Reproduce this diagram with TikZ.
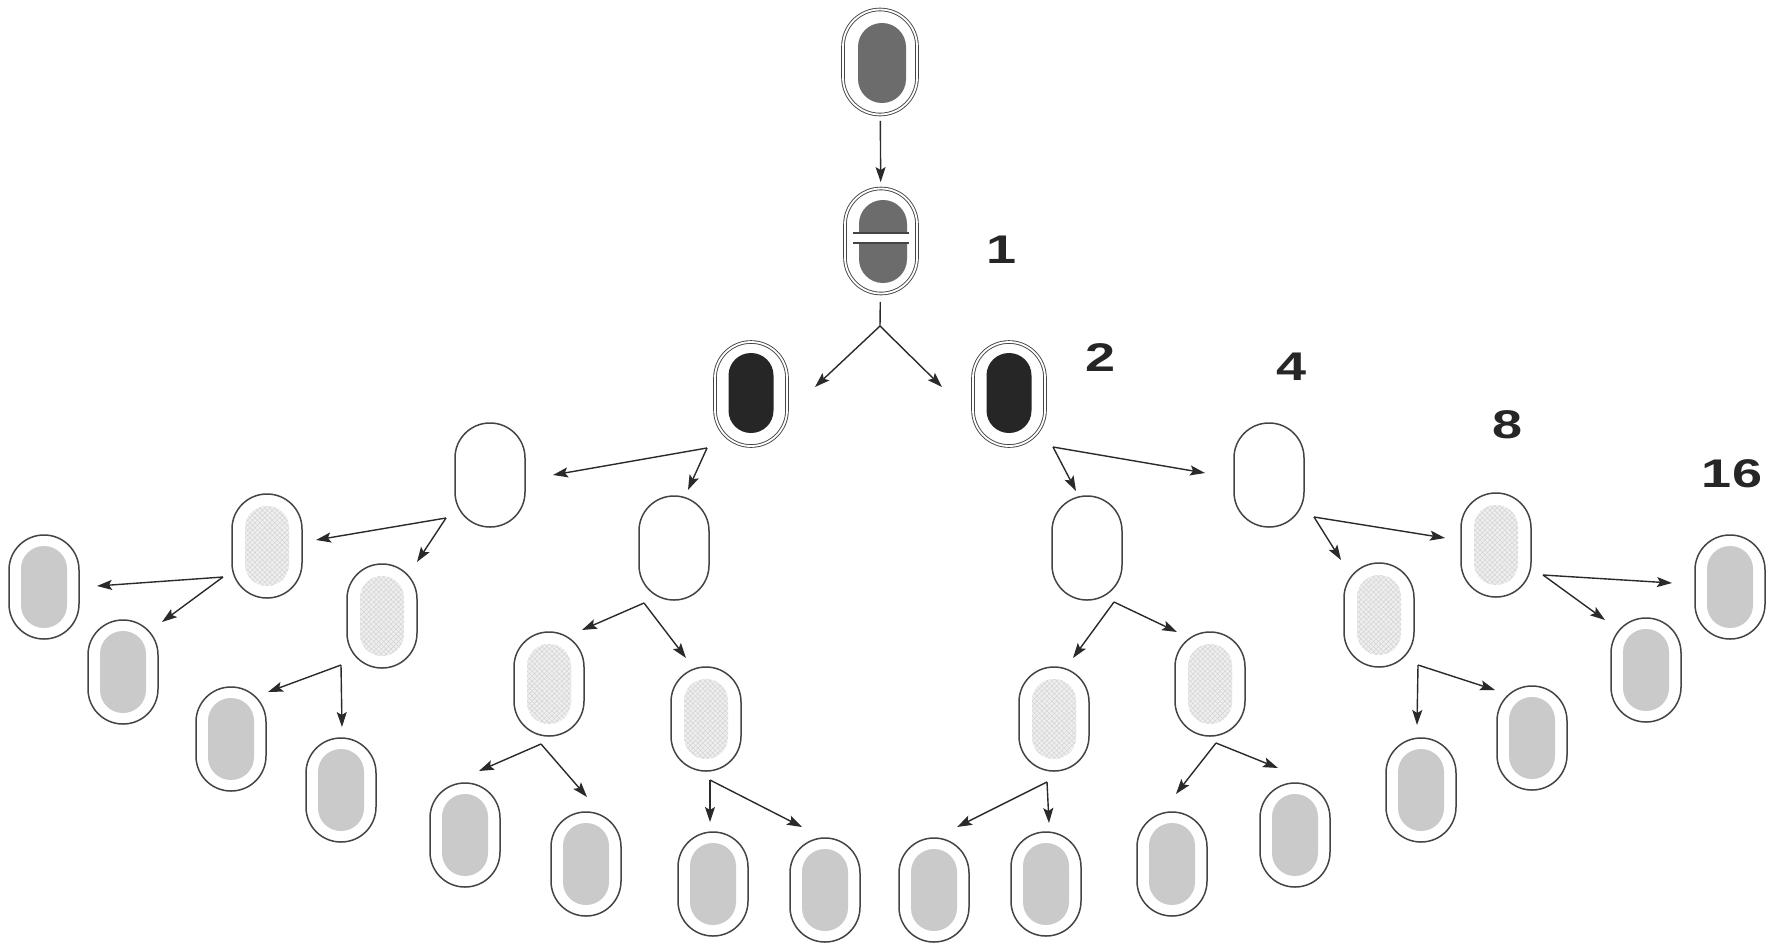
\documentclass[tikz,border=0pt]{standalone}
\usepackage{fontspec}
\setmainfont{Liberation Sans}
\newfontfamily\countfont{Liberation Sans}[FakeStretch=1.35]
\usetikzlibrary{arrows.meta,patterns.meta}

\definecolor{cellline}{HTML}{444444}
\definecolor{arrowink}{HTML}{2A2A2A}
\definecolor{cytodark}{HTML}{6C6C6C}
\definecolor{cytoblack}{HTML}{262626}
\definecolor{cytogrey}{HTML}{CACACA}
\definecolor{cytopale}{HTML}{EFEFEF}
\definecolor{hatchink}{HTML}{D4D4D4}

\tikzset{
  wall/.style={draw=cellline, line width=1.5pt, fill=white, rounded corners=34.9pt,
    minimum width=70pt, minimum height=104pt, inner sep=0pt},
  envelope/.style={draw=cellline, line width=0.9pt, double=white, double distance=1.8pt,
    fill=white, rounded corners=35.9pt, minimum width=72pt, minimum height=104pt, inner sep=0pt},
  core/.style={draw=none, inner sep=0pt, rounded corners=21.9pt,
    minimum width=44pt, minimum height=80pt},
  darkcore/.style={core, fill=cytodark, rounded corners=23.9pt, minimum width=48pt, minimum height=80pt},
  blackcore/.style={core, fill=cytoblack, rounded corners=22.4pt, minimum width=45pt},
  greycore/.style={core, fill=cytogrey, rounded corners=22.9pt, minimum width=46pt, minimum height=82pt},
  palecore/.style={core, preaction={fill=cytopale},
    pattern={Hatch[angle=45,distance=3.5pt,line width=0.5pt]}, pattern color=hatchink},
  arrow/.style={draw=arrowink, line width=1.4pt,
    -{Stealth[length=15pt,width=10pt,inset=3pt]}},
  link/.style={draw=arrowink, line width=1.4pt},
  count/.style={font=\countfont\bfseries\fontsize{40}{40}\selectfont, text=black!85, inner sep=0pt}
}

\begin{document}
\begin{tikzpicture}[x=1pt, y=-1pt]
  \fill[white] (0,0) rectangle (1783,946);
  \useasboundingbox (0,0) rectangle (1783,946);

  % mother cell and the cell laying down its septum
  \node[envelope, minimum width=74pt, minimum height=105pt, rounded corners=36.9pt] (top) at (880,62) {};
  \node[darkcore] at (882,63) {};
  \node[envelope, minimum width=72pt, minimum height=105pt] (div) at (881,241) {};
  \node[darkcore, minimum height=83pt] at (883,241.5) {};
  \fill[white] (853,233) rectangle (909,243);
  \draw[cellline, line width=1.2pt] (853,233) -- (909,233) (853,243) -- (909,243);

  % first generation
  \node[envelope] (b1) at (751,394) {};
  \node[blackcore] at (751,393) {};
  \node[envelope] (b2) at (1009,394) {};
  \node[blackcore] at (1009,393) {};

  % second generation: empty cells
  \foreach \n/\x/\y in {w1/490/475, w2/674/548, w3/1087/548, w4/1269/475}
    \node[wall] (\n) at (\x,\y) {};

  % third generation: hatched cytoplasm
  \foreach \n/\x/\y in {h1/267/546, h2/382/616, h3/549/684, h4/706/719,
                        h5/1054/719, h6/1210/684, h7/1379/615, h8/1496/545} {
    \node[wall] (\n) at (\x,\y) {};
    \node[palecore] at (\x,\y) {};
  }

  % fourth generation: grey cytoplasm
  \foreach \n/\x/\y in {g1/44/587, g2/123/672, g3/231/739, g4/341/790,
                        g5/465/835, g6/586/864, g7/713/884, g8/825/890,
                        g9/934/890, g10/1046/884, g11/1172/864, g12/1295/835,
                        g13/1421/790, g14/1532/738, g15/1646/670, g16/1730/587} {
    \node[wall] (\n) at (\x,\y) {};
    \node[greycore] at (\x,\y) {};
  }

  % branch points and arrow ends
  \coordinate (j0)  at (880,326);  \coordinate (to-b1)  at (815,387);  \coordinate (to-b2)  at (942,387);
  \coordinate (jb1) at (707,448);  \coordinate (to-w1)  at (553,475);  \coordinate (to-w2)  at (688,490);
  \coordinate (jb2) at (1053,447); \coordinate (to-w3)  at (1076,491); \coordinate (to-w4)  at (1205,473);
  \coordinate (jw1) at (446,518);  \coordinate (to-h1)  at (316,540);  \coordinate (to-h2)  at (417,562);
  \coordinate (jw2) at (644,603);  \coordinate (to-h3)  at (582,630);  \coordinate (to-h4)  at (686,658);
  \coordinate (jw3) at (1114,602); \coordinate (to-h5)  at (1073,658); \coordinate (to-h6)  at (1177,632);
  \coordinate (jw4) at (1314,517); \coordinate (to-h7)  at (1341,560); \coordinate (to-h8)  at (1445,538);
  \coordinate (jh1) at (223,577);  \coordinate (to-g1)  at (97,586);   \coordinate (to-g2)  at (162,622);
  \coordinate (jh2) at (341,665);  \coordinate (to-g3)  at (268,692);  \coordinate (to-g4)  at (342,727);
  \coordinate (jh3) at (541,744);  \coordinate (to-g5)  at (479,771);  \coordinate (to-g6)  at (587,797);
  \coordinate (jh4) at (710,780);  \coordinate (to-g7)  at (710,822);  \coordinate (to-g8)  at (802,827);
  \coordinate (jh5) at (1047,782); \coordinate (to-g9)  at (957,827);  \coordinate (to-g10) at (1049,823);
  \coordinate (jh6) at (1216,743); \coordinate (to-g11) at (1176,794); \coordinate (to-g12) at (1278,768);
  \coordinate (jh7) at (1418,665); \coordinate (to-g13) at (1417,725); \coordinate (to-g14) at (1495,690);
  \coordinate (jh8) at (1543,575); \coordinate (to-g15) at (1605,620); \coordinate (to-g16) at (1672,583);

  % connectors
  \draw[arrow, shorten <=6pt, shorten >=6pt] (top) -- (div);
  \draw[link, shorten <=8pt] (div) -- (j0);
  \foreach \j/\a/\b in {j0/b1/b2, jb1/w1/w2, jb2/w3/w4, jw1/h1/h2, jw2/h3/h4,
                        jw3/h5/h6, jw4/h7/h8, jh1/g1/g2, jh2/g3/g4, jh3/g5/g6,
                        jh4/g7/g8, jh5/g9/g10, jh6/g11/g12, jh7/g13/g14, jh8/g15/g16} {
    \draw[arrow] (\j) -- (to-\a);
    \draw[arrow] (\j) -- (to-\b);
  }

  % cell counts
  \node[count] (n1)  at (1002,250) {1};
  \node[count] (n2)  at (1101,358) {2};
  \node[count] (n4)  at (1292,367) {4};
  \node[count] (n8)  at (1507,425) {8};
  \node[count] (n16) at (1732,474) {16};
\end{tikzpicture}
\end{document}
